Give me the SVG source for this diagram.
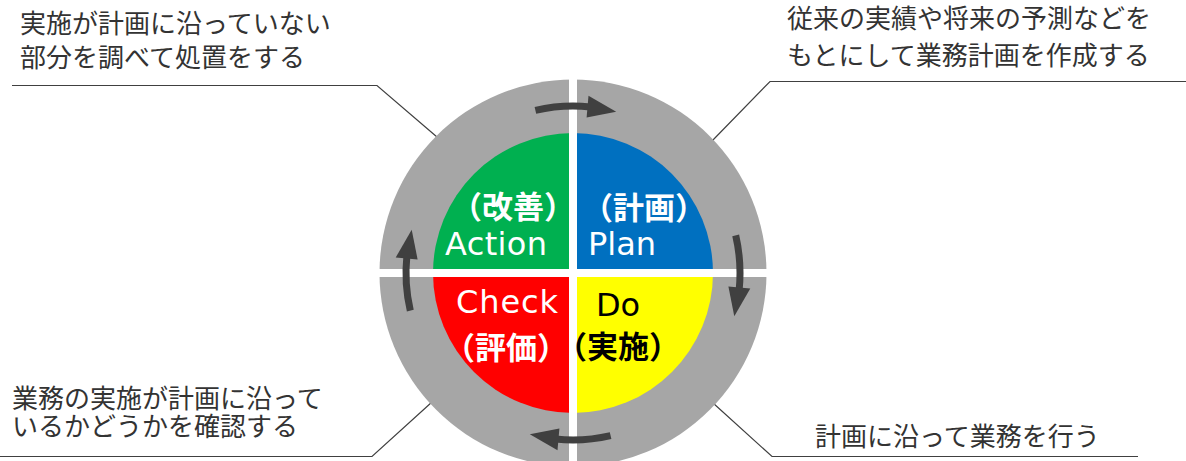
<svg xmlns="http://www.w3.org/2000/svg" xmlns:xlink="http://www.w3.org/1999/xlink" width="1186" height="461" viewBox="0 0 1186 461">
<style>
.note{font-family:"Noto Sans CJK JP","Noto Sans",sans-serif;font-size:26px;fill:#333333}
.lead{fill:none;stroke:#404040;stroke-width:1.2}
.jp{font-family:"Noto Sans CJK JP","Noto Sans",sans-serif;font-size:31px;font-weight:700;text-anchor:middle}
.en{font-family:"DejaVu Sans","Noto Sans",sans-serif;font-size:32px}
.w{fill:#ffffff}
.k{fill:#000000}
.gap{stroke:#ffffff;stroke-width:8}
</style>
<defs>
<g id="cyc">
<path d="M535.4,110.3 A167,167 0 0 1 590.5,106.9" fill="none" stroke="#404040" stroke-width="7"/>
<polygon points="588.5,95.7 616.2,111.7 586.6,117.6" fill="#404040"/>
</g>
</defs>
<rect width="1186" height="461" fill="#ffffff"/>
<g id="connectors">
<polyline class="lead" points="12,85.5 377,85.5 437,137"/>
<polyline class="lead" points="1186,81.5 770,81.5 712,141"/>
<polyline class="lead" points="0,456.5 372,456.5 432,402"/>
<polyline class="lead" points="713,403 772,456.5 1138,456.5"/>
</g>
<g id="ring">
<circle cx="573" cy="273" r="193.5" fill="#A6A6A6"/>
</g>
<g id="plan">
<path d="M573,273 L573,133 A140,140 0 0 1 713,273 Z" fill="#0070C0"/>
</g>
<g id="do">
<path d="M573,273 L713,273 A140,140 0 0 1 573,413 Z" fill="#FFFF00"/>
</g>
<g id="check">
<path d="M573,273 L573,413 A140,140 0 0 1 433,273 Z" fill="#FF0000"/>
</g>
<g id="action">
<path d="M573,273 L433,273 A140,140 0 0 1 573,133 Z" fill="#00B050"/>
</g>
<g id="cross">
<line class="gap" x1="573" y1="70" x2="573" y2="461"/>
<line class="gap" x1="370" y1="273" x2="777" y2="273"/>
</g>
<g id="cycle-arrows">
<use xlink:href="#cyc"/>
<use xlink:href="#cyc" transform="rotate(90 573 273)"/>
<use xlink:href="#cyc" transform="rotate(180 573 273)"/>
<use xlink:href="#cyc" transform="rotate(270 573 273)"/>
</g>
<g id="action-label">
<text class="jp w" x="513" y="218">（改善）</text>
<text class="en w" x="445" y="255" textLength="102" lengthAdjust="spacing">Action</text>
</g>
<g id="plan-label">
<text class="jp w" x="644" y="219">（計画）</text>
<text class="en w" x="588" y="255" textLength="68" lengthAdjust="spacing">Plan</text>
</g>
<g id="check-label">
<text class="en w" x="456" y="313" textLength="102" lengthAdjust="spacing">Check</text>
<text class="jp w" x="506" y="359">（評価）</text>
</g>
<g id="do-label">
<text class="en k" x="596" y="316" textLength="44" lengthAdjust="spacing">Do</text>
<text class="jp k" x="618" y="358">（実施）</text>
</g>
<g id="note-action">
<text class="note" x="20" y="33">実施が計画に沿っていない</text>
<text class="note" x="20" y="67">部分を調べて処置をする</text>
</g>
<g id="note-plan">
<text class="note" x="787" y="28">従来の実績や将来の予測などを</text>
<text class="note" x="787" y="65">もとにして業務計画を作成する</text>
</g>
<g id="note-check">
<text class="note" x="12" y="408">業務の実施が計画に沿って</text>
<text class="note" x="12" y="436">いるかどうかを確認する</text>
</g>
<g id="note-do">
<text class="note" x="815" y="446">計画に沿って業務を行う</text>
</g>
</svg>
